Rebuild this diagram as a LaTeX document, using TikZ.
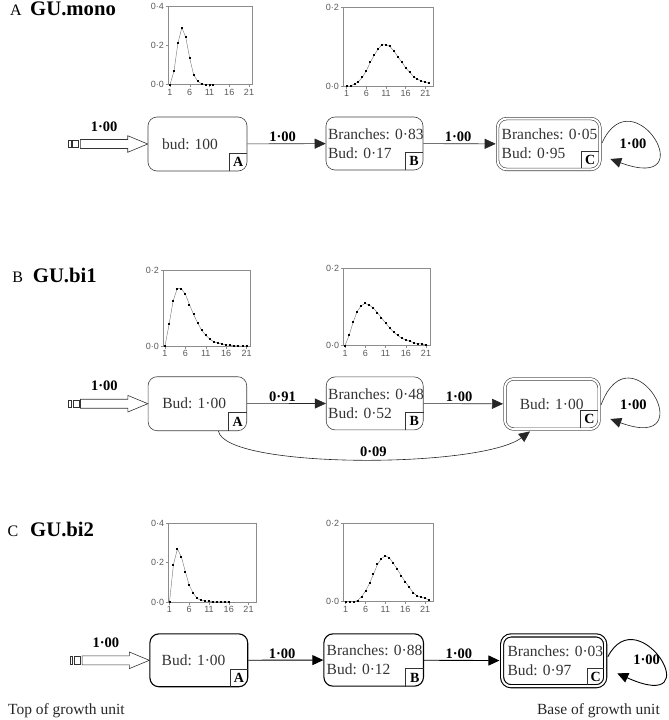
\documentclass[tikz,border=0pt]{standalone}
\usepackage{fontspec}
\setmainfont{Liberation Serif}
\newfontfamily\chartfont{Liberation Sans}
\usetikzlibrary{arrows.meta}
\frenchspacing
\newcommand{\gchart}[8]{%
  \draw[chartframe] (#1,-#2) rectangle (#3,-#4);
  \pgfmathsetmacro{\gys}{(#4-#2)/#7}%
  \begin{scope}[shift={({#5-#6},{-#4})}, x=#6pt, y=\gys pt]
    \draw[plotline] (1,0) \foreach \a/\b in {#8} { -- (\a,\b) };
    \foreach \k in {1,6,11,16,21} {
      \draw[chartframe] (\k,0) -- ++(0pt,-2.5pt);
      \node[tlab, anchor=north] (xl\k) at ([yshift=-3.5pt]\k,0) {\k};
    }
    \foreach \a/\b in {#8} {\fill[black] (\a,\b) ++(-1pt,-1pt) rectangle ++(2pt,2pt);}
  \end{scope}}
\newcommand{\ylab}[3]{%
  \draw[chartframe] (#1-2.5,-#2) -- (#1,-#2);
  \node[tlab, anchor=east] (yl) at (#1-3,-#2) {#3};}
\begin{document}
\begin{tikzpicture}[x=1pt,y=1pt,
  box/.style={draw=black!75, line width=0.6pt, rounded corners=9pt, align=left, inner ysep=0pt, font=\fontsize{15.5}{19}\selectfont, text=black!80},
  boxC/.style={box, line width=1.1pt, draw=black},
  dbl/.style={double, double distance=2pt},
  lab/.style={minimum size=18pt, inner sep=0pt, font=\fontsize{14}{14}\selectfont\bfseries},
  labln/.style={draw=black!80, line width=0.6pt},
  edge/.style={draw=black!85, line width=0.6pt, -{Triangle[length=11pt,width=10pt]}},
  edgeC/.style={edge, line width=0.9pt, draw=black},
  elab/.style={font=\fontsize{14.5}{15}\selectfont\bfseries, inner sep=1.5pt},
  hollow/.style={draw=black!80, line width=0.6pt, fill=white},
  chartframe/.style={draw=black!45, line width=0.5pt},
  plotline/.style={draw=black!55, line width=0.4pt},
  tlab/.style={font=\chartfont\fontsize{9}{9}\selectfont, text=black!65, inner sep=1pt},
  ttl/.style={font=\fontsize{16}{16}\selectfont, inner sep=0pt, anchor=base west},
  ttlb/.style={font=\fontsize{20.7}{21}\selectfont\bfseries, inner sep=0pt, anchor=base west},
  foot/.style={font=\fontsize{15.5}{16}\selectfont, text=black!85, inner sep=0pt}
]
\useasboundingbox (0,0) rectangle (669,-720);

% ---------- titles ----------
\node[ttl] (tA) at (10,-16) {A};
\node[ttlb] (tAn) at (30,-16) {GU.mono};
\node[ttl] (tB) at (12.3,-282.7) {B};
\node[ttlb] (tBn) at (32.7,-282.7) {GU.bi1};
\node[ttl] (tC) at (7.3,-536.7) {C};
\node[ttlb] (tCn) at (30,-536.7) {GU.bi2};

% ---------- charts ----------
\gchart{168}{6}{252}{84.5}{170}{3.95}{0.4}{1/0,2/0.067,3/0.21,4/0.29,5/0.24,6/0.133,7/0.049,8/0.017,9/0.003,10/0,11/0,12/0}
\ylab{168}{6}{0·4}\ylab{168}{45.25}{0·2}\ylab{168}{84.5}{0·0}

\gchart{343}{7}{433}{86}{346.7}{3.93}{0.2}{1/0,2/0,3/0.005,4/0.011,5/0.022,6/0.039,7/0.06,8/0.078,9/0.094,10/0.105,11/0.105,12/0.1,13/0.089,14/0.074,15/0.061,16/0.046,17/0.035,18/0.024,19/0.017,20/0.013,21/0.009,22/0.007}
\ylab{343}{7}{0·2}\ylab{343}{86}{0·0}

\gchart{163}{270}{250.7}{346}{165}{4.08}{0.2}{1/0,2/0.057,3/0.119,4/0.151,5/0.151,6/0.136,7/0.109,8/0.083,9/0.061,10/0.041,11/0.028,12/0.018,13/0.011,14/0.008,15/0.005,16/0.003,17/0.002,18/0.001,19/0,20/0,21/0}
\ylab{163}{270}{0·2}\ylab{163}{346}{0·0}

\gchart{343.3}{268.3}{430.7}{345.5}{345}{4.05}{0.2}{1/0,2/0.026,3/0.06,4/0.088,5/0.103,6/0.109,7/0.105,8/0.097,9/0.085,10/0.072,11/0.059,12/0.046,13/0.035,14/0.026,15/0.019,16/0.014,17/0.011,18/0.007,19/0.005,20/0.004,21/0.001}
\ylab{343.3}{268.3}{0·2}\ylab{343.3}{345.5}{0·0}

\gchart{168.3}{523.3}{256.7}{602}{169.5}{3.95}{0.4}{1/0,2/0.19,3/0.27,4/0.23,5/0.155,6/0.085,7/0.045,8/0.018,9/0.008,10/0.006,11/0.003,12/0.001,13/0.001,14/0.001,15/0.001,16/0.001}
\ylab{168.3}{523.3}{0·4}\ylab{168.3}{562.65}{0·2}\ylab{168.3}{602}{0·0}

\gchart{343.3}{523.3}{433.3}{601.7}{345.7}{3.97}{0.2}{1/0,2/0,3/0,4/0.003,5/0.013,6/0.027,7/0.047,8/0.07,9/0.095,10/0.11,11/0.117,12/0.112,13/0.098,14/0.083,15/0.066,16/0.051,17/0.037,18/0.023,19/0.015,20/0.011,21/0.009,22/0.004}
\ylab{343.3}{523.3}{0·2}\ylab{343.3}{601.7}{0·0}

% ---------- panel A nodes ----------
\node[box, minimum height=54pt, inner xsep=14pt, text width=71pt] (a1) at (197.5,-144) {\mbox{bud: 100}};
\node[box, minimum height=53pt, inner xsep=2pt, text width=93pt] (b1) at (374.5,-143.5) {\mbox{Branches: 0·83}\\\mbox{Bud: 0·17}};
\node[box, dbl, minimum height=50.8pt, inner xsep=4.1pt, text width=94.1pt] (c1) at (548.75,-144) {\mbox{Branches: 0·05}\\\mbox{Bud: 0·95}};

% ---------- panel B nodes ----------
\node[box, minimum height=54pt, inner xsep=14.3pt, text width=70pt] (a2) at (197.4,-403.7) {\mbox{Bud: 1·00}};
\node[box, minimum height=53pt, inner xsep=2pt, text width=93pt] (b2) at (374.7,-403.4) {\mbox{Branches: 0·48}\\\mbox{Bud: 0·52}};
\node[box, dbl, minimum height=50.2pt, inner xsep=15pt, text width=64.2pt] (c2) at (552,-404) {\mbox{Bud: 1·00}};

% ---------- panel C nodes ----------
\node[boxC, minimum height=52.9pt, inner xsep=11.8pt, text width=74.2pt] (a3) at (198.8,-660.3) {\mbox{Bud: 1·00}};
\node[boxC, minimum height=52.3pt, inner xsep=2.8pt, text width=94pt] (b3) at (373.7,-660) {\mbox{Branches: 0·88}\\\mbox{Bud: 0·12}};
\node[boxC, dbl, minimum height=50.8pt, inner xsep=5.5pt, text width=92.1pt] (c3) at (553.65,-660.8) {\mbox{Branches: 0·03}\\\mbox{Bud: 0·97}};

% ---------- corner labels ----------
\foreach \n/\l in {a1/A,b1/B,a2/A,b2/B,a3/A,b3/B} {
  \node[lab, anchor=south east] (lab\n) at (\n.south east) {\l};
  \draw[labln] (lab\n.south west) |- (lab\n.north east);
}
\foreach \n in {c1,c2,c3} {
  \node[lab, minimum size=17pt, anchor=south east] (lab\n) at ([shift={(-1.3,1.3)}]\n.south east) {C};
  \draw[labln] (lab\n.south west) |- (lab\n.north east);
}

% ---------- input arrows ----------
\foreach \n in {a1,a2,a3} {
  \draw[hollow] ([shift={(-67.3,4.5)}]\n.west) -- ([shift={(-20,4.5)}]\n.west) -- ([shift={(-20,8.3)}]\n.west) -- (\n.west) -- ([shift={(-20,-8.3)}]\n.west) -- ([shift={(-20,-4.5)}]\n.west) -- ([shift={(-67.3,-4.5)}]\n.west) -- cycle;
  \draw[hollow] ([shift={(-79.3,-3.7)}]\n.west) rectangle ([shift={(-76.7,3.7)}]\n.west);
  \draw[hollow] ([shift={(-75,-3.7)}]\n.west) rectangle ([shift={(-69,3.7)}]\n.west);
  \node[elab] (in\n) at ([shift={(-43.5,17.5)}]\n.west) {1·00};
}

% ---------- edges panel A ----------
\draw[edge] (a1) -- node[elab, above, pos=0.45] (eA1) {1·00} (b1);
\draw[edge, shorten >=1.6pt] (b1) -- node[elab, above, pos=0.47] (eA2) {1·00} (c1);
\draw[edge] ([shift={(1.8,1)}]c1.east) .. controls ([shift={(33,70)}]c1.east) and ([shift={(105,-50)}]c1.east) .. ([shift={(10.1,-15)}]c1.east);
\node[elab] (eA3) at (633,-144) {1·00};

% ---------- edges panel B ----------
\draw[edge] (a2) -- node[elab, above, pos=0.45] (eB1) {0·91} (b2);
\draw[edge, shorten >=1.6pt] (b2) -- node[elab, above, pos=0.44] (eB2) {1·00} (c2);
\draw[edge] ([xshift=21pt]a2.south) .. controls ([shift={(27.7,-38)}]a2.south) and ([shift={(-72,-39.3)}]c2.south) .. ([xshift=-22pt,yshift=-2pt]c2.south);
\node[elab] (eB4) at (373.3,-451.7) {0·09};
\draw[edge] ([shift={(1.6,-1)}]c2.east) .. controls ([shift={(32,80)}]c2.east) and ([shift={(106,-50)}]c2.east) .. ([shift={(10.9,-15)}]c2.east);
\node[elab] (eB3) at (633.3,-404.3) {1·00};

% ---------- edges panel C ----------
\draw[edgeC] (a3) -- node[elab, above, pos=0.45] (eC1) {1·00} (b3);
\draw[edgeC, shorten >=2.1pt] (b3) -- node[elab, above, pos=0.45] (eC2) {1·00} (c3);
\draw[edgeC] ([shift={(2.1,4.1)}]c3.east) .. controls ([shift={(33,64)}]c3.east) and ([shift={(106,-55)}]c3.east) .. ([shift={(11.5,-12.5)}]c3.east);
\node[elab] (eC3) at (646.7,-659.3) {1·00};

% ---------- footer ----------
\node[foot, anchor=base west] (ftop) at (8,-714) {Top of growth unit};
\node[foot, anchor=base east] (fbase) at (660,-714) {Base of growth unit};
\end{tikzpicture}
\end{document}
